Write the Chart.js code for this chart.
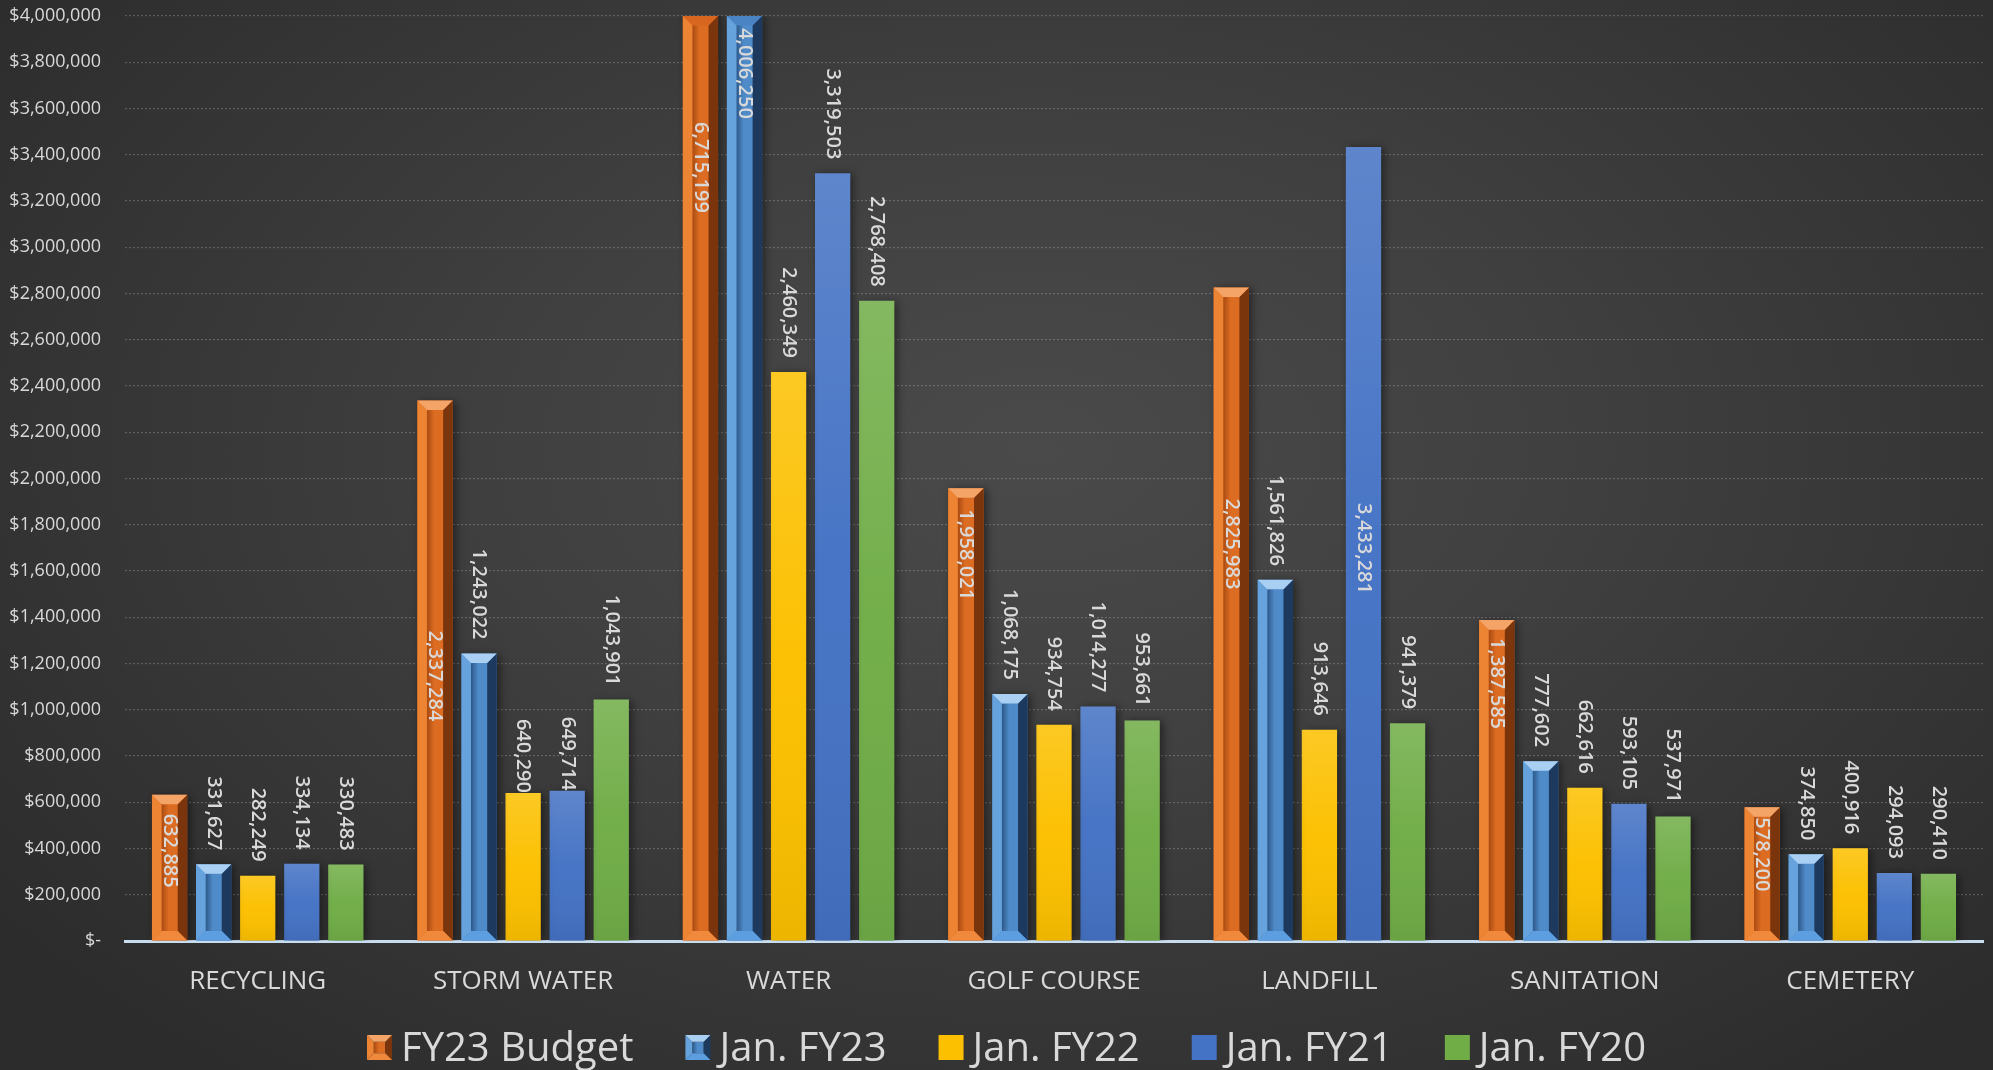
<!DOCTYPE html>
<html>
<head>
<meta charset="utf-8">
<script src="https://cdn.jsdelivr.net/npm/chart.js@4.4.1/dist/chart.umd.min.js"></script>
<style>
  html, body { margin: 0; padding: 0; }
  body {
    width: 1993px; height: 1070px; overflow: hidden;
    background: radial-gradient(ellipse 65% 75% at 52% 42%, #4a4a4a 0%, #404040 40%, #2c2c2c 100%);
  }
  canvas { display: block; }
</style>
</head>
<body>
<canvas id="fundchart" width="1993" height="1070"></canvas>
<script>
const categories = ["RECYCLING", "STORM WATER", "WATER", "GOLF COURSE", "LANDFILL", "SANITATION", "CEMETERY"];
const fy23Budget = [632885, 2337284, 6715199, 1958021, 2825983, 1387585, 578200];
const janFY23 = [331627, 1243022, 4006250, 1068175, 1561826, 777602, 374850];
const janFY22 = [282249, 640290, 2460349, 934754, 913646, 662616, 400916];
const janFY21 = [334134, 649714, 3319503, 1014277, 3433281, 593105, 294093];
const janFY20 = [330483, 1043901, 2768408, 953661, 941379, 537971, 290410];
const yTicks = [0, 200000, 400000, 600000, 800000, 1000000, 1200000, 1400000, 1600000, 1800000, 2000000,
  2200000, 2400000, 2600000, 2800000, 3000000, 3200000, 3400000, 3600000, 3800000, 4000000];

const FONT = "'Open Sans', 'Noto Sans', sans-serif";
const TEXT = "#d9d9d9";

// where the budget labels sit inside their bars (px below the visible top)
const budgetLabelDrop = [19, 230, 106, 21, 211, 18, 10];
// labels that were moved by hand in the original
const labelOverrides = { "3:4": { inside: 356 }, "2:1": { gap: 0 }, "3:1": { gap: 0 } };

const fmt = v => v.toLocaleString("en-US");

const bevelColors = {
  0: { top: "#f5a468", left: "#ec8434", right: "#7a350c", bottom: "#f0893c", inA: "#a84a12", inB: "#dc6c22" },
  1: { top: "#a9d0f3", left: "#66a3dc", right: "#1d3a5e", bottom: "#5c9ee0", inA: "#2d5788", inB: "#4f8bc8" }
};

function poly(c, pts, col) {
  c.beginPath();
  c.moveTo(pts[0][0], pts[0][1]);
  for (let i = 1; i < pts.length; i++) c.lineTo(pts[i][0], pts[i][1]);
  c.closePath();
  c.fillStyle = col;
  c.fill();
}

function bevelBox(c, k, L, R, T, B, drawTop) {
  const b = (R - L) * 0.27;
  const g = c.createLinearGradient(L + b, 0, R - b, 0);
  g.addColorStop(0, k.inA);
  g.addColorStop(0.45, k.inB);
  g.addColorStop(1, k.inB);
  c.fillStyle = g;
  c.fillRect(L + b, T + b, R - L - 2 * b, B - T - 2 * b);
  poly(c, [[L, T], [L + b, T + b], [L + b, B - b], [L, B]], k.left);
  poly(c, [[R, T], [R - b, T + b], [R - b, B - b], [R, B]], k.right);
  poly(c, [[L, B], [L + b, B - b], [R - b, B - b], [R, B]], k.bottom);
  if (drawTop) poly(c, [[L, T], [R, T], [R - b, T + b], [L + b, T + b]], k.top);
}

const barLook = {
  id: "barLook",
  beforeDatasetsDraw(chart) {
    const c = chart.ctx;
    c.save();
    c.shadowColor = "rgba(0,0,0,0.45)";
    c.shadowBlur = 8;
    c.shadowOffsetX = 3;
    c.shadowOffsetY = 1;
  },
  afterDatasetsDraw(chart) {
    const c = chart.ctx;
    c.restore();
    const a = chart.chartArea;
    c.save();
    c.beginPath();
    c.rect(a.left, a.top, a.right - a.left, a.bottom - a.top);
    c.clip();
    chart.data.datasets.forEach((ds, di) => {
      chart.getDatasetMeta(di).data.forEach(el => {
        const L = el.x - el.width / 2, R = el.x + el.width / 2;
        const T = Math.max(el.y, a.top), B = el.base;
        if (bevelColors[di]) {
          bevelBox(c, bevelColors[di], L, R, T, B, el.y >= a.top);
        } else {
          const g = c.createLinearGradient(0, T, 0, B);
          g.addColorStop(0, "rgba(255,255,255,0.14)");
          g.addColorStop(0.5, "rgba(255,255,255,0.02)");
          g.addColorStop(1, "rgba(0,0,0,0.06)");
          c.fillStyle = g;
          c.fillRect(L, T, R - L, B - T);
        }
      });
    });
    c.restore();
  }
};

const valueLabels = {
  id: "valueLabels",
  afterDraw(chart) {
    const c = chart.ctx;
    const a = chart.chartArea;
    c.save();
    c.font = "600 20px " + FONT;
    c.fillStyle = TEXT;
    c.textBaseline = "middle";
    chart.data.datasets.forEach((ds, di) => {
      chart.getDatasetMeta(di).data.forEach((el, i) => {
        const txt = fmt(ds.data[i]);
        const w = c.measureText(txt).width;
        const top = Math.max(el.y, a.top);
        const ov = labelOverrides[di + ":" + i] || {};
        let y, align;
        if (di === 0) {
          y = top + budgetLabelDrop[i]; align = "left";
        } else if (ov.inside !== undefined) {
          y = top + ov.inside; align = "left";
        } else {
          const gap = ov.gap !== undefined ? ov.gap : 14;
          if (top - gap - w < a.top) { y = top + 12; align = "left"; }
          else { y = top - gap; align = "right"; }
        }
        c.save();
        c.translate(el.x, y);
        c.rotate(Math.PI / 2);
        c.textAlign = align;
        c.fillText(txt, 0, 0);
        c.restore();
      });
    });
    c.restore();
  }
};

// legend row under the axis, built from the datasets
const bottomLegend = {
  id: "bottomLegend",
  afterDraw(chart) {
    const c = chart.ctx;
    const box = 25, textGap = 9, itemGap = 52;
    c.save();
    c.font = "40px " + FONT;
    c.textBaseline = "alphabetic";
    c.textAlign = "left";
    const items = chart.data.datasets.map((ds, di) => ({ ds, di, w: c.measureText(ds.label).width }));
    const total = items.reduce((s, it) => s + box + textGap + it.w, 0) + itemGap * (items.length - 1);
    let x = chart.width / 2 + 10 - total / 2;
    const boxTop = 1035;
    items.forEach(it => {
      if (bevelColors[it.di]) bevelBox(c, bevelColors[it.di], x, x + box, boxTop, boxTop + box, true);
      else { c.fillStyle = it.ds.backgroundColor; c.fillRect(x, boxTop, box, box); }
      c.fillStyle = TEXT;
      c.fillText(it.ds.label, x + box + textGap, 1061);
      x += box + textGap + it.w + itemGap;
    });
    c.restore();
  }
};

const data = {
  labels: categories,
  datasets: [
    { label: "FY23 Budget", data: fy23Budget, backgroundColor: "#d9661f" },
    { label: "Jan. FY23", data: janFY23, backgroundColor: "#4a84c4" },
    { label: "Jan. FY22", data: janFY22, backgroundColor: "#fcc000" },
    { label: "Jan. FY21", data: janFY21, backgroundColor: "#4472c4" },
    { label: "Jan. FY20", data: janFY20, backgroundColor: "#70ad47" }
  ]
};

const config = {
  type: "bar",
  data,
  options: {
    responsive: false,
    animation: false,
    devicePixelRatio: 1,
    categoryPercentage: 0.83,
    barPercentage: 0.8,
    layout: { padding: { top: 16, right: 10, left: 0, bottom: 0 } },
    plugins: {
      tooltip: { enabled: false },
      legend: { display: false }
    },
    scales: {
      x: {
        afterFit(scale) { scale.height = 129; },
        grid: { display: false, drawTicks: false },
        border: { display: true, color: "#c8dcf0", width: 3 },
        ticks: { color: TEXT, font: { family: FONT, size: 26 }, padding: 25 }
      },
      y: {
        min: 0,
        max: 4000000,
        afterBuildTicks(scale) { scale.ticks = yTicks.map(v => ({ value: v })); },
        afterFit(scale) {
          scale.width = 125;
          scale.paddingTop = 0;
          scale.paddingBottom = 0;
        },
        grid: { color: "rgba(210,210,210,0.28)", lineWidth: 1.2, drawTicks: false },
        border: { display: false, dash: [2, 2] },
        ticks: {
          color: TEXT,
          font: { family: FONT, size: 18 },
          padding: 24,
          callback: v => v === 0 ? "$-" : "$" + fmt(v)
        }
      }
    }
  },
  plugins: [barLook, valueLabels, bottomLegend]
};

const fundChart = new Chart("fundchart", config);
</script>
</body>
</html>
